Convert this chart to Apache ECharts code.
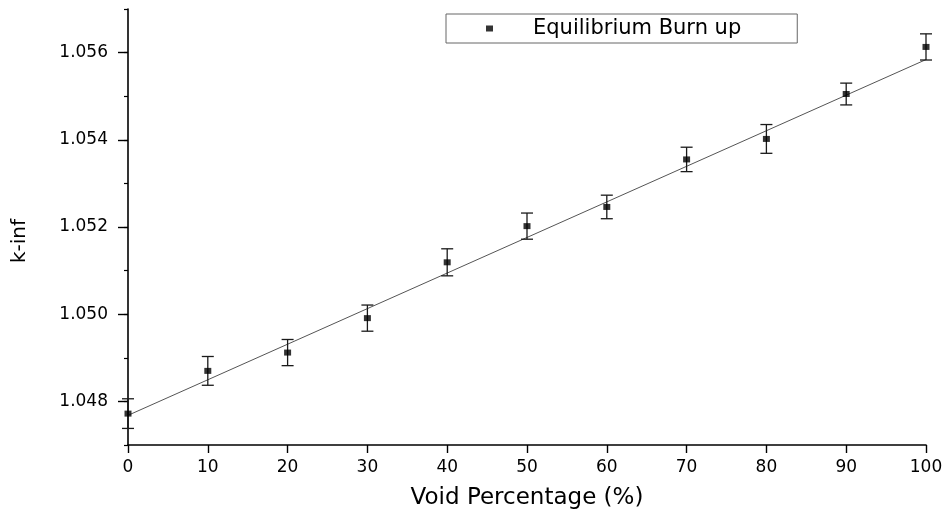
<!DOCTYPE html>
<html>
<head>
<meta charset="utf-8">
<title>k-inf vs void percentage</title>
<script src="https://cdn.jsdelivr.net/npm/echarts@6/dist/echarts.min.js"></script>
<style>
  html, body { margin: 0; padding: 0; background: #fff; }
  #main { width: 946px; height: 515px; }
</style>
</head>
<body>
<div id="main"></div>
<script>
// data
var voidPct = [0, 10, 20, 30, 40, 50, 60, 70, 80, 90, 100];
var kInf = [1.04772, 1.04870, 1.04912, 1.04991, 1.05119, 1.05202, 1.05246, 1.05355, 1.05402, 1.05505, 1.05613];
var kErr = [0.00034, 0.00033, 0.00030, 0.00030, 0.00031, 0.00030, 0.00027, 0.00028, 0.00033, 0.00025, 0.00030];
// linear fit line (end points)
var fitX = [0, 100];
var fitY = [1.04768, 1.05584];
// y tick labels
var yMajor = [1.048, 1.050, 1.052, 1.054, 1.056];

var FONT = 'DejaVu Sans';

var pts = voidPct.map(function (x, i) { return [x, kInf[i]]; });
var bars = voidPct.map(function (x, i) { return [x, kInf[i] - kErr[i], kInf[i] + kErr[i]]; });
var fit = fitX.map(function (x, i) { return [x, fitY[i]]; });

var chart = echarts.init(document.getElementById('main'));
var option = {
  backgroundColor: '#fff',
  animation: false,
  grid: { left: 128, right: 20, top: 9, bottom: 70, outerBoundsMode: 'none' },
  legend: {
    data: ['Equilibrium Burn up'],
    left: 446,
    top: 14,
    orient: 'horizontal',
    icon: 'rect',
    itemWidth: 7,
    itemHeight: 6,
    padding: [4, 56, 4, 40],
    borderColor: '#666',
    borderWidth: 1,
    textStyle: { fontFamily: FONT, fontSize: 21, color: '#000', padding: [0, 0, 0, 35], lineHeight: 20 }
  },
  xAxis: {
    type: 'value',
    min: 0,
    max: 100,
    interval: 10,
    name: 'Void Percentage (%)',
    nameLocation: 'middle',
    nameGap: 42,
    nameTextStyle: { fontFamily: FONT, fontSize: 23, color: '#000' },
    axisLine: { lineStyle: { color: '#000', width: 1.6 } },
    axisTick: { inside: false, length: 8, lineStyle: { color: '#000', width: 1.4 } },
    axisLabel: { fontFamily: FONT, fontSize: 17, color: '#000', margin: 14 },
    splitLine: { show: false }
  },
  yAxis: [
    {
      type: 'value',
      min: 1.047,
      max: 1.057,
      interval: 0.001,
      name: 'k-inf',
      nameLocation: 'middle',
      nameRotate: 90,
      nameGap: 98,
      nameTextStyle: { fontFamily: FONT, fontSize: 20, color: '#000', padding: [0, 28, 0, 0] },
      axisLine: { show: true, lineStyle: { color: '#000', width: 1.6 } },
      axisTick: { show: true, length: 10, customValues: yMajor, lineStyle: { color: '#000', width: 1.4 } },
      axisLabel: {
        customValues: yMajor,
        fontFamily: FONT, fontSize: 17, color: '#000', margin: 20,
        formatter: function (v) { return v.toFixed(3); }
      },
      splitLine: { show: false }
    },
    {
      // minor ticks every 0.001
      type: 'value',
      position: 'left',
      min: 1.047,
      max: 1.057,
      interval: 0.001,
      axisLine: { show: false },
      axisTick: { show: true, length: 4, lineStyle: { color: '#000', width: 1.2 } },
      axisLabel: { show: false },
      splitLine: { show: false }
    }
  ],
  series: [
    {
      name: 'fit',
      type: 'line',
      data: fit,
      showSymbol: false,
      symbol: 'none',
      lineStyle: { color: '#555', width: 1 },
      silent: true,
      z: 1
    },
    {
      name: 'error',
      type: 'custom',
      data: bars,
      encode: { x: 0, y: [1, 2] },
      renderItem: function (params, api) {
        var x = api.value(0);
        var lo = api.coord([x, api.value(1)]);
        var hi = api.coord([x, api.value(2)]);
        var w = 6;
        var st = { stroke: '#1a1a1a', lineWidth: 1.3 };
        return {
          type: 'group',
          children: [
            { type: 'line', shape: { x1: hi[0], y1: hi[1], x2: lo[0], y2: lo[1] }, style: st },
            { type: 'line', shape: { x1: hi[0] - w, y1: hi[1], x2: hi[0] + w, y2: hi[1] }, style: st },
            { type: 'line', shape: { x1: lo[0] - w, y1: lo[1], x2: lo[0] + w, y2: lo[1] }, style: st }
          ]
        };
      },
      clip: false,
      z: 2
    },
    {
      name: 'Equilibrium Burn up',
      type: 'scatter',
      data: pts,
      symbol: 'rect',
      symbolSize: [7, 6],
      itemStyle: { color: '#000' },
      z: 3
    }
  ]
};
chart.setOption(option);
</script>
</body>
</html>
